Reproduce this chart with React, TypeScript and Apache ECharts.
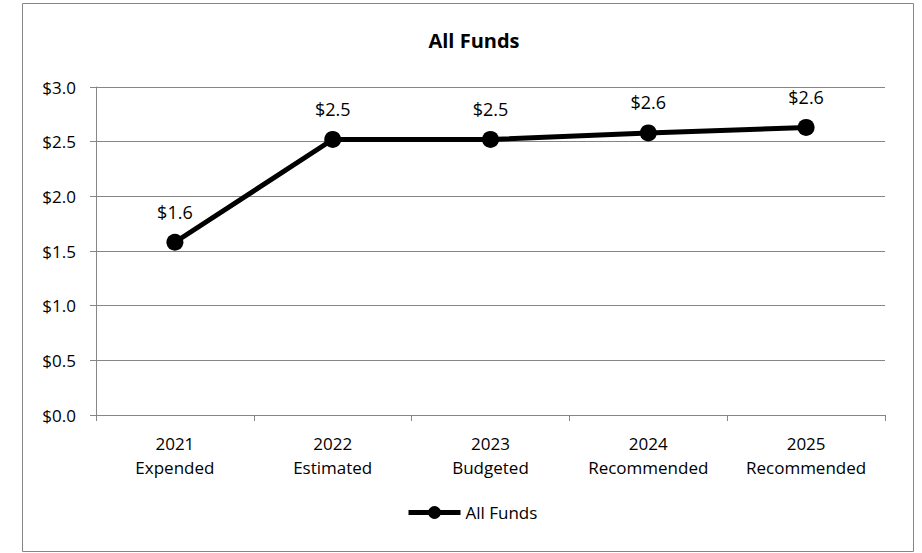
import React, { useEffect, useRef } from "react";
import * as echarts from "echarts";

const categories = ["2021\nExpended", "2022\nEstimated", "2023\nBudgeted", "2024\nRecommended", "2025\nRecommended"];
const allFunds = [1.58, 2.52, 2.52, 2.58, 2.63];
const yTicks = { min: 0, max: 3, interval: 0.5 };
const seriesName = "All Funds";
const chartTitle = "All Funds";

const FONT = "'Open Sans', 'Noto Sans', sans-serif";

export default function App() {
  const ref = useRef<HTMLDivElement>(null);
  useEffect(() => {
    document.body.style.margin = "0";
    const chart = echarts.init(ref.current!, null, { renderer: "svg" });
    chart.setOption({
      animation: false,
      backgroundColor: "#ffffff",
      textStyle: { fontFamily: FONT },
      graphic: [
        {
          type: "rect",
          shape: { x: 22.5, y: 3.5, width: 891, height: 548 },
          style: { fill: "none", stroke: "#868686", lineWidth: 1 },
          silent: true,
        },
      ],
      title: {
        text: chartTitle,
        left: 469,
        top: 25,
        textAlign: "center",
        textStyle: { fontFamily: FONT, fontSize: 20, fontWeight: "bold", color: "#000" },
      },
      legend: {
        bottom: 27,
        left: 401,
        data: [seriesName],
        itemWidth: 52,
        itemHeight: 16,
        itemGap: 6,
        lineStyle: { width: 5, color: "#000" },
        textStyle: { fontFamily: FONT, fontSize: 17, color: "#000" },
      },
      grid: { left: 96, right: 37, top: 87, bottom: 138 },
      xAxis: {
        type: "category",
        data: categories,
        boundaryGap: true,
        axisLine: { show: true, lineStyle: { color: "#868686", width: 1 } },
        axisTick: { show: true, length: 6, lineStyle: { color: "#868686" } },
        axisLabel: {
          color: "#000",
          fontFamily: FONT,
          fontSize: 17,
          lineHeight: 24,
          margin: 16,
        },
        splitLine: { show: false },
      },
      yAxis: {
        type: "value",
        min: yTicks.min,
        max: yTicks.max,
        interval: yTicks.interval,
        axisLine: { show: true, lineStyle: { color: "#868686", width: 1 } },
        axisTick: { show: true, length: 6, lineStyle: { color: "#868686" } },
        axisLabel: {
          color: "#000",
          fontFamily: FONT,
          fontSize: 17,
          margin: 20,
          formatter: (v: number) => "$" + v.toFixed(1),
        },
        splitLine: { show: true, lineStyle: { color: "#868686", width: 1 } },
      },
      series: [
        {
          name: seriesName,
          type: "line",
          data: allFunds,
          symbol: "circle",
          symbolSize: 17,
          itemStyle: { color: "#000" },
          lineStyle: { color: "#000", width: 5 },
          label: {
            show: true,
            position: "top",
            distance: 13,
            color: "#000",
            fontFamily: FONT,
            fontSize: 18,
            formatter: (p: any) => "$" + (Math.round(p.value * 10) / 10).toFixed(1),
          },
        },
      ],
    });
    return () => chart.dispose();
  }, []);
  return <div ref={ref} style={{ width: 922, height: 553 }} />;
}
